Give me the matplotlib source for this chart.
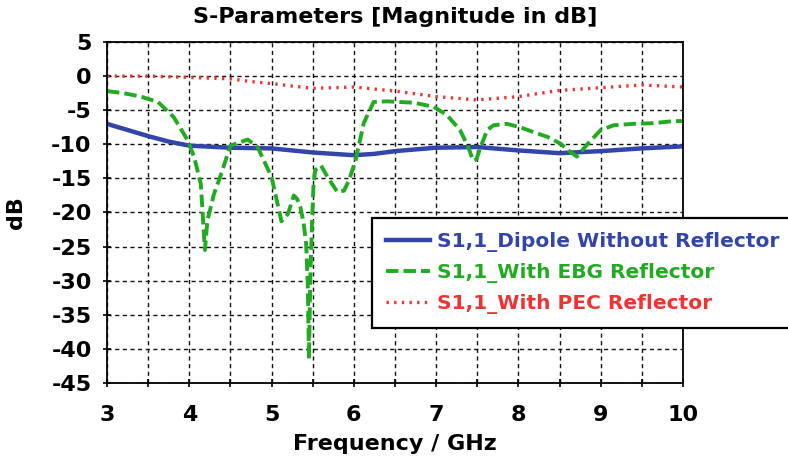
import matplotlib
matplotlib.use("Agg")
import matplotlib.pyplot as plt

# S11 without reflector
f_dipole = [3.0, 3.25, 3.5, 3.75, 4.0, 4.5, 5.0, 5.5, 6.0, 6.25, 6.5, 7.0, 7.5, 8.0, 8.5, 9.0, 9.5, 10.0]
s_dipole = [-7.0, -7.9, -8.8, -9.6, -10.2, -10.5, -10.6, -11.2, -11.6, -11.4, -11.0, -10.5, -10.4, -10.9, -11.3, -11.0, -10.6, -10.3]

# S11 with EBG reflector
f_ebg = [3.0, 3.2, 3.41, 3.62, 3.81, 3.98, 4.06, 4.14, 4.19, 4.22, 4.3, 4.38, 4.5, 4.71, 4.83,
         5.0, 5.12, 5.2, 5.27, 5.31, 5.35, 5.39, 5.42, 5.44, 5.455, 5.47, 5.49, 5.51, 5.53,
         5.6, 5.68, 5.8, 5.88, 5.94, 6.02, 6.12, 6.24, 6.4, 6.73, 6.97, 7.13, 7.29, 7.39,
         7.45, 7.49, 7.54, 7.62, 7.7, 7.86, 8.02, 8.18, 8.35, 8.51, 8.63, 8.71, 8.83, 9.0,
         9.16, 9.4, 9.64, 9.88, 10.0]
s_ebg = [-2.2, -2.5, -3.0, -3.8, -6.0, -9.4, -11.9, -15.8, -25.5, -21.2, -17.3, -14.6, -10.2, -9.3, -10.4,
         -14.8, -21.3, -20.2, -17.5, -18.0, -19.2, -21.6, -24.6, -30.5, -41.5, -30.0, -22.1, -15.8, -13.8,
         -13.1, -14.8, -17.0, -16.8, -15.3, -12.4, -6.9, -3.8, -3.7, -3.9, -4.5, -5.7, -7.9, -10.4,
         -12.4, -12.2, -10.4, -7.9, -7.2, -7.0, -7.5, -8.2, -8.9, -9.9, -11.1, -11.8, -10.1, -7.9,
         -7.2, -7.0, -6.9, -6.6, -6.6]

# S11 with PEC reflector
f_pec = [3.0, 3.5, 4.0, 4.5, 4.75, 5.0, 5.5, 6.0, 6.5, 7.0, 7.5, 8.0, 8.5, 9.0, 9.5, 10.0]
s_pec = [0.0, 0.0, -0.2, -0.4, -0.8, -1.1, -1.8, -1.6, -2.2, -3.0, -3.5, -3.0, -2.1, -1.7, -1.3, -1.6]

x_ticks = [3, 4, 5, 6, 7, 8, 9, 10]
x_minor = [3.5, 4.5, 5.5, 6.5, 7.5, 8.5, 9.5]
y_ticks = [5, 0, -5, -10, -15, -20, -25, -30, -35, -40, -45]

plt.rcParams['font.family'] = 'DejaVu Sans'
plt.rcParams['font.weight'] = 'bold'
plt.rcParams['axes.unicode_minus'] = False

fig = plt.figure(figsize=(7.88, 4.66), dpi=100)
ax = fig.add_axes([107 / 788, 1 - 383 / 466, 576 / 788, 341 / 466])

ax.plot(f_dipole, s_dipole, color='#3344aa', lw=3.2, label='S1,1_Dipole Without Reflector')
ax.plot(f_ebg, s_ebg, color='#22aa22', lw=2.8, ls=(0, (3.2, 1.3)), label='S1,1_With EBG Reflector')
ax.plot(f_pec, s_pec, color='#ee3333', lw=2.4, ls=(0, (0.7, 1.6)), label='S1,1_With PEC Reflector')

ax.set_xlim(3, 10)
ax.set_ylim(-45, 5)
ax.set_xticks(x_ticks)
ax.set_xticks(x_minor, minor=True)
ax.set_yticks(y_ticks)
ax.tick_params(axis='x', which='both', direction='inout', length=6, width=1.2, labelsize=16, pad=13)
ax.tick_params(axis='y', direction='inout', length=6, width=1.2, labelsize=16, pad=8)
for lab in ax.get_xticklabels() + ax.get_yticklabels():
    lab.set_fontweight('bold')
ax.grid(True, which='both', axis='x', color='#111111', ls=(0, (3, 2.5)), lw=1.0)
ax.grid(True, axis='y', color='#111111', ls=(0, (3, 2.5)), lw=1.0)
for sp in ax.spines.values():
    sp.set_linewidth(1.3)

ax.set_title('S-Parameters [Magnitude in dB]', fontsize=16, fontweight='bold', pad=14)
ax.set_xlabel('Frequency / GHz', fontsize=16, fontweight='bold', labelpad=6)
ax.set_ylabel('dB', fontsize=16, fontweight='bold', labelpad=18)

leg = ax.legend(loc='upper left', bbox_to_anchor=(372 / 788, 1 - 218 / 466),
                bbox_transform=fig.transFigure, fontsize=14.5, frameon=True,
                fancybox=False, edgecolor='black', framealpha=1,
                handlelength=2.2, handletextpad=0.35, borderpad=0.7,
                labelspacing=0.55, borderaxespad=0)
leg.get_frame().set_linewidth(1.6)
for txt, line in zip(leg.get_texts(), leg.get_lines()):
    txt.set_color(line.get_color())
    txt.set_fontweight('bold')

fig.savefig('out.png', dpi=100)
